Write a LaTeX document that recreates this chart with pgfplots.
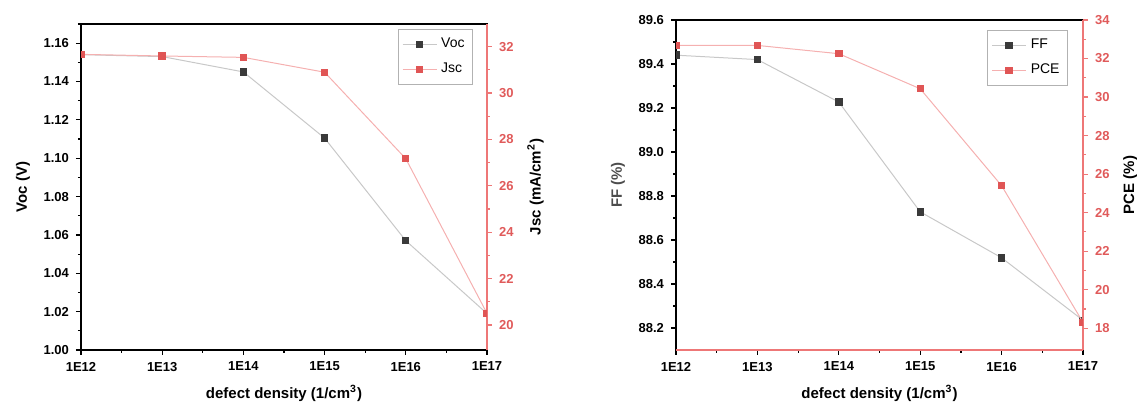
\documentclass[border=0pt]{standalone}
\usepackage{pgfplots}
\pgfplotsset{compat=1.18}
\usepackage{fontspec}
\setmainfont{Liberation Sans}
\definecolor{dmark}{HTML}{3A3A3A}
\definecolor{lline}{HTML}{C8C8C8}
\definecolor{rmark}{HTML}{E05555}
\definecolor{rline}{HTML}{F5B0B0}
\definecolor{raxis}{HTML}{EE7777}
\definecolor{rtext}{HTML}{E05A5A}
\pgfplotsset{
  base/.style={
    scale only axis, anchor=south west,
    xmin=12, xmax=17,
    tick align=outside,
    clip marker paths=true,
    major tick length=2.5pt, minor tick length=1.5pt,
    ticklabel style={font=\fontsize{6.5}{7}\selectfont\bfseries},
    label style={font=\fontsize{7.5}{8}\selectfont\bfseries},
    /pgf/number format/assume math mode=true,
    axis line style={line width=0.8pt},
    every tick/.style={line width=0.6pt},
  },
  leftax/.style={base,
    xtick={12,13,14,15,16,17},
    xticklabels={1E12,1E13,1E14,1E15,1E16,1E17},
    minor x tick num=1,
    xtick pos=bottom, ytick pos=left,
    minor y tick num=1,
    xlabel={defect density (1/cm\textsuperscript{3})},
  },
  rightax/.style={base,
    axis y line*=right, axis x line=none,
    minor y tick num=1,
    y axis line style={draw=raxis, line width=0.8pt},
    tick style={draw=raxis},
    yticklabel style={color=rtext},
    legend style={font=\fontsize{7}{8}\selectfont, draw=gray!60, line width=0.4pt,
      fill=white, inner xsep=2pt, inner ysep=2.5pt, row sep=2pt, anchor=north east},
    legend cell align=left,
  },
  blk/.style={color=lline, line width=0.5pt, mark=square*, mark size=1.6pt,
    mark options={draw=dmark, fill=dmark}},
  red/.style={color=rline, line width=0.5pt, mark=square*, mark size=1.6pt,
    mark options={draw=rmark, fill=rmark}},
}
\begin{document}
\begin{tikzpicture}
\useasboundingbox (0,0) rectangle (568.5pt,207.5pt);
% ---------- left panel ----------
\begin{axis}[leftax, at={(40.5pt,32.5pt)}, width=203pt, height=163pt,
  ymin=1.0, ymax=1.17, ytick={1.00,1.02,...,1.17},
  yticklabel style={/pgf/number format/.cd, fixed, fixed zerofill, precision=2},
  ylabel={Voc (V)}]
\addplot[blk] coordinates {(12,1.154) (13,1.153) (14,1.145) (15,1.1105) (16,1.057) (17,1.019)};
\end{axis}
\begin{axis}[rightax, at={(40.5pt,32.5pt)}, width=203pt, height=163pt,
  ymin=18.92, ymax=32.98, ytick={20,22,...,32},
  ylabel={Jsc (mA/cm\textsuperscript{2})},
  legend style={at={(0.9655,0.985)}}]
\addlegendimage{blk}\addlegendentry{Voc}
\addplot[red] coordinates {(12,31.67) (13,31.6) (14,31.54) (15,30.9) (16,27.17) (17,20.5)};
\addlegendentry{Jsc}
\end{axis}
% ---------- right panel ----------
\begin{axis}[leftax, at={(338pt,32.5pt)}, width=203.5pt, height=165pt,
  ymin=88.1, ymax=89.6, ytick={88.2,88.4,...,89.61},
  yticklabel style={/pgf/number format/.cd, fixed, fixed zerofill, precision=1},
  ylabel={FF (\%)}, ylabel style={color=black!70}]
\addplot[blk] coordinates {(12,89.44) (13,89.42) (14,89.227) (15,88.728) (16,88.519) (17,88.235)};
\end{axis}
\begin{axis}[rightax, at={(338pt,32.5pt)}, width=203.5pt, height=165pt,
  ymin=16.87, ymax=34, ytick={18,20,...,34},
  ylabel={PCE (\%)},
  legend style={at={(0.963,0.97)}}]
\addlegendimage{blk}\addlegendentry{FF}
\addplot[red] coordinates {(12,32.68) (13,32.68) (14,32.25) (15,30.43) (16,25.4) (17,18.3)};
\addlegendentry{PCE}
\end{axis}
\begin{axis}[base, at={(338pt,32.5pt)}, width=203.5pt, height=165pt,
  ymin=0, ymax=1, axis x line*=bottom, axis y line=none, xtick=\empty,
  x axis line style={draw=raxis, line width=0.8pt}]
\end{axis}
\end{tikzpicture}
\end{document}
